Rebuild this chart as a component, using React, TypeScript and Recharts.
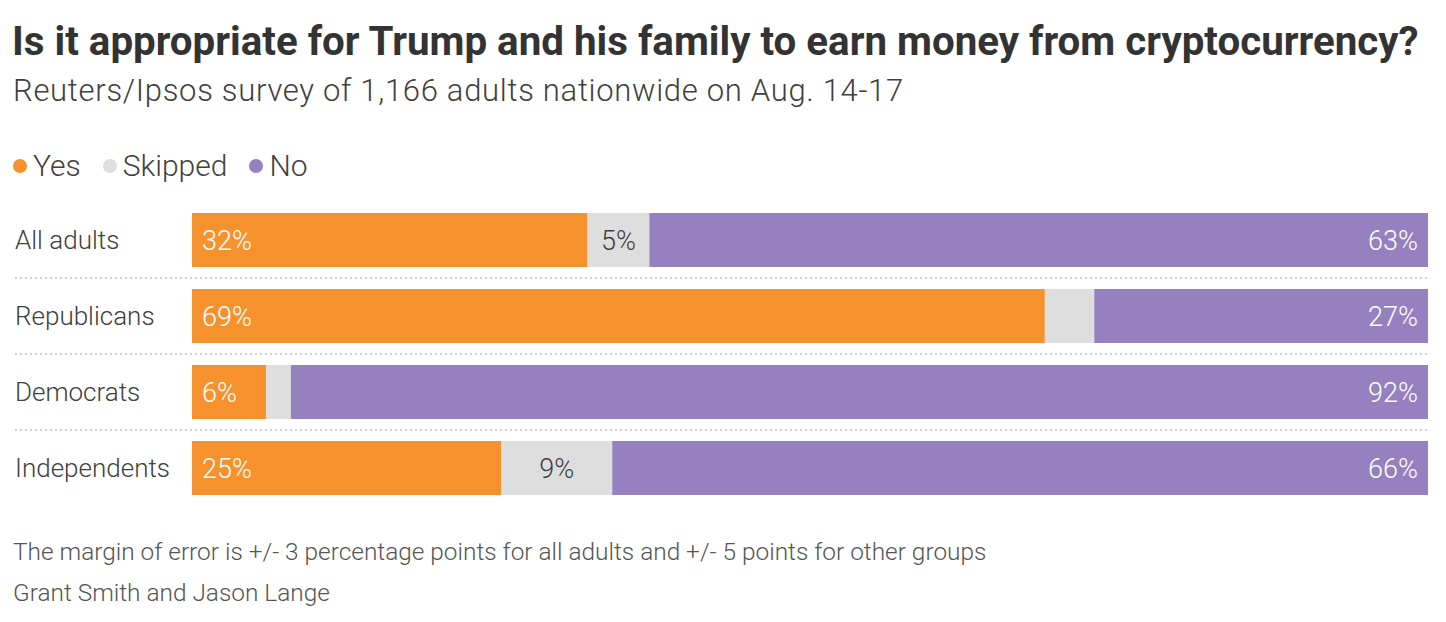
import { BarChart, Bar, XAxis, YAxis, LabelList } from 'recharts';

const groups = ['All adults', 'Republicans', 'Democrats', 'Independents'];
const yesValues = [32, 69, 6, 25];
const skippedValues = [5, 4, 2, 9];
const noValues = [63, 27, 92, 66];

const legendItems = [
  { name: 'Yes', color: '#F5922E' },
  { name: 'Skipped', color: '#DEDEDE' },
  { name: 'No', color: '#9581BF' },
];

const data = groups.map((group, i) => ({
  group,
  yes: yesValues[i],
  skipped: skippedValues[i],
  no: noValues[i],
}));

const FONT = 'Roboto, "Noto Sans", sans-serif';
const TEXT = '#404040';
const PLOT_RIGHT = 1428;
const LABEL_SIZE = 27;

const GroupTick = ({ y, payload, index }: any) => (
  <g>
    {index > 0 && (
      <line
        x1={15}
        x2={PLOT_RIGHT}
        y1={y - 38}
        y2={y - 38}
        stroke="#cfcfcf"
        strokeWidth={2}
        strokeDasharray="2 3"
      />
    )}
    <text x={15} y={y} dy={9} fill={TEXT} fontSize={26} fontWeight={300} textAnchor="start" fontFamily={FONT}>
      {payload.value}
    </text>
  </g>
);

const SkippedLabel = ({ x, y, width, height, value }: any) => {
  if (value < 5) return null;
  return (
    <text x={x + width / 2} y={y + height / 2} dy={9.5} fill={TEXT} fontSize={LABEL_SIZE} fontWeight={300} textAnchor="middle" fontFamily={FONT}>
      {value}%
    </text>
  );
};

const YesLabel = ({ x, y, height, value }: any) => (
  <text x={x + 10} y={y + height / 2} dy={9.5} fill="#fff" fontSize={LABEL_SIZE} fontWeight={300} textAnchor="start" fontFamily={FONT}>
    {value}%
  </text>
);

const NoLabel = ({ x, y, width, height, value }: any) => (
  <text x={x + width - 10} y={y + height / 2} dy={9.5} fill="#fff" fontSize={LABEL_SIZE} fontWeight={300} textAnchor="end" fontFamily={FONT}>
    {value}%
  </text>
);

export default function App() {
  return (
    <div style={{ position: 'relative', width: 1446, height: 622, background: '#fff', fontFamily: FONT, color: TEXT }}>
      <style>{'body{margin:0}'}</style>
      <div style={{ position: 'absolute', left: 12, top: 18, fontSize: 40.3, fontWeight: 700, color: '#333', whiteSpace: 'nowrap', lineHeight: 1.17 }}>
        Is it appropriate for Trump and his family to earn money from cryptocurrency?
      </div>
      <div style={{ position: 'absolute', left: 13, top: 73, fontSize: 31, fontWeight: 300, letterSpacing: 0.7, whiteSpace: 'nowrap', lineHeight: 1.17 }}>
        Reuters/Ipsos survey of 1,166 adults nationwide on Aug. 14-17
      </div>
      <div style={{ position: 'absolute', left: 13, top: 148, display: 'flex', alignItems: 'center', fontSize: 30, fontWeight: 300, lineHeight: 1.17 }}>
        {legendItems.map((item) => (
          <span key={item.name} style={{ display: 'flex', alignItems: 'center', marginRight: 22 }}>
            <span style={{ width: 14, height: 14, borderRadius: 7, background: item.color, marginRight: 6, display: 'inline-block' }} />
            {item.name}
          </span>
        ))}
      </div>
      <div style={{ position: 'absolute', left: 0, top: 202 }}>
        <BarChart
          width={1446}
          height={304}
          data={data}
          layout="vertical"
          margin={{ top: 0, right: 1446 - PLOT_RIGHT, bottom: 0, left: 0 }}
          barSize={54}
        >
          <XAxis type="number" domain={[0, 100]} hide />
          <YAxis
            type="category"
            dataKey="group"
            width={192}
            axisLine={false}
            tickLine={false}
            tick={<GroupTick />}
          />
          <Bar dataKey="yes" stackId="a" fill={legendItems[0].color} isAnimationActive={false}>
            <LabelList dataKey="yes" content={<YesLabel />} />
          </Bar>
          <Bar dataKey="skipped" stackId="a" fill={legendItems[1].color} isAnimationActive={false}>
            <LabelList dataKey="skipped" content={<SkippedLabel />} />
          </Bar>
          <Bar dataKey="no" stackId="a" fill={legendItems[2].color} isAnimationActive={false}>
            <LabelList dataKey="no" content={<NoLabel />} />
          </Bar>
        </BarChart>
      </div>
      <div style={{ position: 'absolute', left: 13, top: 538, fontSize: 24.4, fontWeight: 300, color: '#555', whiteSpace: 'nowrap', lineHeight: 1.17 }}>
        The margin of error is +/- 3 percentage points for all adults and +/- 5 points for other groups
      </div>
      <div style={{ position: 'absolute', left: 13, top: 579, fontSize: 24.4, fontWeight: 300, color: '#555', whiteSpace: 'nowrap', lineHeight: 1.17 }}>
        Grant Smith and Jason Lange
      </div>
    </div>
  );
}
